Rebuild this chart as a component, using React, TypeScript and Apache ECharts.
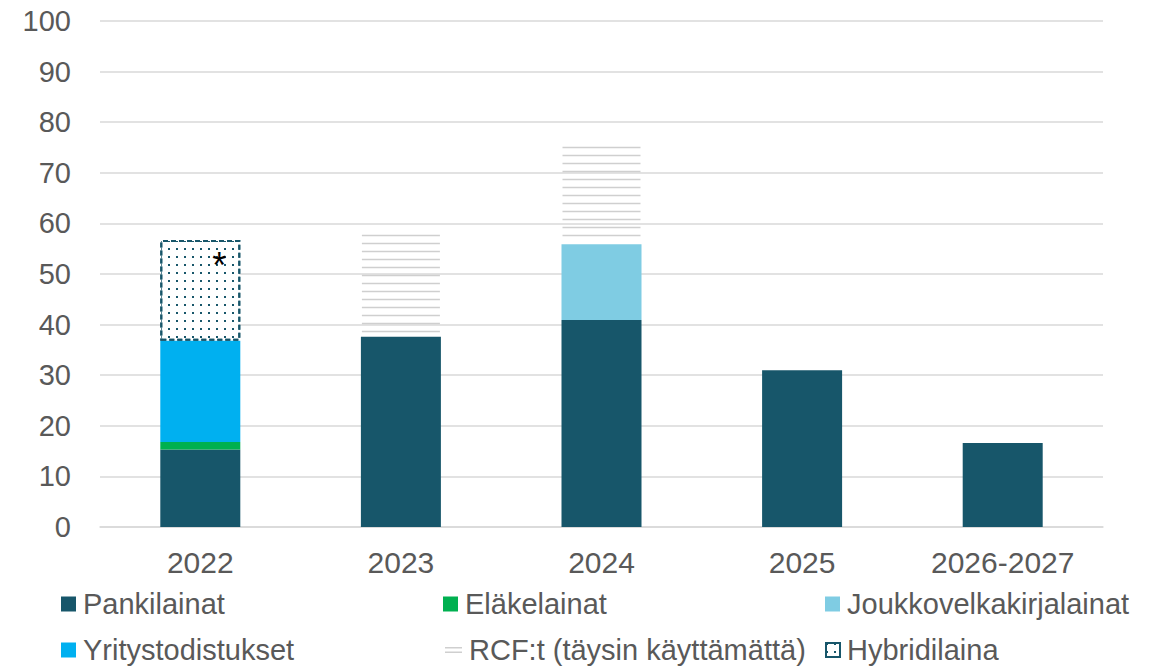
import React, { useEffect, useRef } from "react";
import * as echarts from "echarts";

const categories = ["2022", "2023", "2024", "2025", "2026-2027"];
const pankilainat = [15.3, 37.6, 40.9, 31.0, 16.6];
const elakelainat = [1.5, null, null, null, null];
const yritystodistukset = [20.0, null, null, null, null];
const joukkovelkakirjalainat = [null, null, 15.0, null, null];
const rcf = [null, 20.0, 19.1, null, null];
const hybridilaina = [19.9, null, null, null, null];
const yTicks = { min: 0, max: 100, interval: 10 };

const DARK = "#17566A";
const GREEN = "#00B050";
const BLUE = "#00B0F0";
const LIGHT = "#7FCCE3";
const STRIPE = "#CFCFCF";
const FONT = "'Liberation Sans', Arial, sans-serif";
const TXT = "#595959";
const BAR_W = 80;

export default function App() {
  const ref = useRef<HTMLDivElement>(null);
  useEffect(() => {
    if (!ref.current) return;
    const chart = echarts.init(ref.current, null, { renderer: "svg" });

    const dotDecal = {
      symbol: "rect",
      symbolSize: 1,
      dashArrayX: [2, 6],
      dashArrayY: [2, 5.5],
      rotation: 0,
      color: DARK,
    };

    const base = categories.map(
      (_, i) =>
        (pankilainat[i] || 0) +
        (elakelainat[i] || 0) +
        (yritystodistukset[i] || 0) +
        (joukkovelkakirjalainat[i] || 0)
    );
    const rcfData = rcf
      .map((v, i) => (v == null ? null : [i, base[i], base[i] + v]))
      .filter((d) => d !== null);

    const legendItem = (name: string, left: number, top: number, extra: any = {}) => ({
      data: [{ name, icon: "rect" }],
      left,
      top,
      itemWidth: 15,
      itemHeight: 15,
      itemGap: 0,
      selectedMode: false,
      textStyle: { fontFamily: FONT, fontSize: 29, color: TXT, lineHeight: 32, padding: [0, 0, 0, 2] },
      ...extra,
    });

    chart.setOption({
      animation: false,
      backgroundColor: "#ffffff",
      grid: { left: 100, right: 55, top: 21, bottom: 141, containLabel: false },
      legend: [
        legendItem("Pankilainat", 56, 583),
        legendItem("Eläkelainat", 438, 583),
        legendItem("Joukkovelkakirjalainat", 820, 583),
        legendItem("Yritystodistukset", 56, 629),
        legendItem("RCF:t (täysin käyttämättä)", 440, 629, {
          itemWidth: 17,
          itemHeight: 6,
          data: [
            {
              name: "RCF:t (täysin käyttämättä)",
              icon: "path://M0,0H17V1.5H0Z M0,4.5H17V6H0Z",
              itemStyle: { color: STRIPE },
            },
          ],
        }),
        legendItem("Hybridilaina", 820, 629, {
          itemWidth: 14,
          itemHeight: 14,
        }),
      ],
      xAxis: {
        type: "category",
        data: categories,
        axisLine: { show: true, lineStyle: { color: "#D9D9D9", width: 1.5 } },
        axisTick: { show: false },
        axisLabel: { fontFamily: FONT, fontSize: 30, color: TXT, margin: 20 },
      },
      yAxis: {
        type: "value",
        min: yTicks.min,
        max: yTicks.max,
        interval: yTicks.interval,
        axisLine: { show: false },
        axisTick: { show: false },
        splitLine: { lineStyle: { color: "#D9D9D9", width: 1.5 } },
        axisLabel: { fontFamily: FONT, fontSize: 29, color: TXT, margin: 29 },
      },
      series: [
        { name: "Pankilainat", type: "bar", stack: "t", barWidth: BAR_W, data: pankilainat, itemStyle: { color: DARK } },
        { name: "Eläkelainat", type: "bar", stack: "t", barWidth: BAR_W, data: elakelainat, itemStyle: { color: GREEN } },
        { name: "Yritystodistukset", type: "bar", stack: "t", barWidth: BAR_W, data: yritystodistukset, itemStyle: { color: BLUE } },
        { name: "Joukkovelkakirjalainat", type: "bar", stack: "t", barWidth: BAR_W, data: joukkovelkakirjalainat, itemStyle: { color: LIGHT } },
        {
          name: "RCF:t (täysin käyttämättä)",
          type: "custom",
          data: rcfData,
          encode: { x: 0, y: [1, 2] },
          itemStyle: { color: STRIPE },
          renderItem: (params: any, api: any) => {
            const xi = api.value(0);
            const top = api.coord([xi, api.value(2)]);
            const bot = api.coord([xi, api.value(1)]);
            const children: any[] = [];
            for (let y = top[1]; y < bot[1] - 3; y += 8) {
              children.push({
                type: "line",
                shape: { x1: top[0] - BAR_W / 2 + 1, y1: y, x2: top[0] + BAR_W / 2 - 1, y2: y },
                style: { stroke: STRIPE, lineWidth: 1.6 },
              });
            }
            return { type: "group", children };
          },
        },
        {
          name: "Hybridilaina",
          type: "bar",
          stack: "t",
          barWidth: BAR_W,
          data: hybridilaina.map((v, i) =>
            i === 0
              ? {
                  value: v,
                  label: {
                    show: true,
                    formatter: "*",
                    position: [52, 7],
                    fontSize: 36,
                    fontFamily: FONT,
                    color: "#000000",
                  },
                }
              : v
          ),
          itemStyle: {
            color: "#ffffff",
            borderColor: DARK,
            borderWidth: 2,
            borderType: [5, 3],
            decal: dotDecal,
          },
        },
      ],
    });
    return () => chart.dispose();
  }, []);
  return <div ref={ref} style={{ width: 1158, height: 668, position: "absolute", left: 0, top: 0 }} />;
}
